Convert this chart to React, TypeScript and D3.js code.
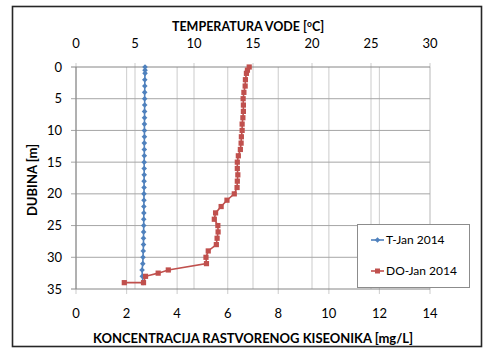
import React from "react";
import { scaleLinear, line } from "d3";

// dubina [m]
const depthT = [0, 0.5, 1, 2, 3, 4, 5, 6, 7, 8, 9, 10, 11, 12, 13, 14, 15, 16, 17, 18, 19, 20, 21, 22, 23, 24, 25, 26, 27, 28, 29, 30, 31, 32, 33, 34];
const tempT = [5.85, 5.85, 5.85, 5.83, 5.83, 5.82, 5.82, 5.82, 5.81, 5.81, 5.8, 5.8, 5.8, 5.79, 5.79, 5.79, 5.78, 5.78, 5.78, 5.77, 5.77, 5.76, 5.76, 5.75, 5.75, 5.74, 5.74, 5.73, 5.72, 5.72, 5.7, 5.68, 5.66, 5.6, 5.62, 5.68];

const depthDO = [0, 0.5, 1, 2, 3, 4, 5, 6, 7, 8, 9, 10, 11, 12, 13, 14, 15, 16, 17, 18, 19, 20, 21, 22, 23, 24, 25, 26, 27, 28, 29, 30, 31, 32, 32.5, 33, 34, 34];
const valDO = [6.85, 6.78, 6.74, 6.7, 6.69, 6.64, 6.61, 6.62, 6.62, 6.6, 6.57, 6.57, 6.54, 6.53, 6.5, 6.42, 6.38, 6.38, 6.4, 6.38, 6.37, 6.26, 5.97, 5.74, 5.52, 5.47, 5.61, 5.62, 5.58, 5.55, 5.23, 5.14, 5.16, 3.65, 3.25, 2.75, 2.67, 1.91];

const ticksT = [0, 5, 10, 15, 20, 25, 30];
const ticksDO = [0, 2, 4, 6, 8, 10, 12, 14];
const ticksDepth = [0, 5, 10, 15, 20, 25, 30, 35];

const seriesNames = ["T-Jan 2014", "DO-Jan 2014"];

const BLUE = "#4f81bd";
const RED = "#c0504d";
const FONT = "Lato, 'Open Sans', sans-serif";

export default function App() {
  const left = 76, right = 430, top = 67, bottom = 289;
  const xT = scaleLinear().domain([0, 30]).range([left, right]);
  const xDO = scaleLinear().domain([0, 14]).range([left, right]);
  const y = scaleLinear().domain([0, 35]).range([top, bottom]);

  const tPts = depthT.map((d, i) => [xT(tempT[i]), y(d)] as [number, number]);
  const doPts = depthDO.map((d, i) => [xDO(valDO[i]), y(d)] as [number, number]);
  const path = line();

  const diamond = (cx: number, cy: number, r = 2.8) =>
    `M${cx},${cy - r}L${cx + r},${cy}L${cx},${cy + r}L${cx - r},${cy}Z`;

  return (
    <svg width={484} height={348} style={{ position: "absolute", left: 0, top: 0 }} fontFamily={FONT}>
      <rect x={0} y={0} width={484} height={348} fill="#fff" />
      <rect x={12.5} y={6.5} width={469} height={340} fill="#fff" stroke="#262626" strokeWidth={1.6} />

      {/* vertical grid, both axes */}
      {ticksDO.map((t) => (
        <line key={"gd" + t} x1={xDO(t)} x2={xDO(t)} y1={top} y2={bottom + 5} stroke="#d4d4d4" strokeWidth={1.2} />
      ))}
      {ticksT.map((t) => (
        <line key={"gt" + t} x1={xT(t)} x2={xT(t)} y1={top - 4} y2={bottom} stroke="#d4d4d4" strokeWidth={1.2} />
      ))}
      {/* horizontal grid */}
      {ticksDepth.map((t) => (
        <line key={"gy" + t} x1={left - 5} x2={right} y1={y(t)} y2={y(t)} stroke={t === 0 || t === 35 ? "#868686" : "#a6a6a6"} strokeWidth={1} />
      ))}
      <line x1={left} x2={left} y1={top} y2={bottom} stroke="#868686" />

      {/* axis labels */}
      {ticksT.map((t) => (
        <text key={"lt" + t} x={xT(t)} y={48} textAnchor="middle" fontSize={13} fill="#000">{t}</text>
      ))}
      {ticksDO.map((t) => (
        <text key={"ld" + t} x={xDO(t)} y={318} textAnchor="middle" fontSize={13} fill="#000">{t}</text>
      ))}
      {ticksDepth.map((t) => (
        <text key={"ly" + t} x={62} y={y(t) + 4.5} textAnchor="end" fontSize={13} fill="#000">{t}</text>
      ))}

      <text x={248} y={30.5} textAnchor="middle" fontSize={12.5} fontWeight="bold" fill="#000">
        TEMPERATURA VODE [<tspan fontSize={8.5} dy={-4}>o</tspan><tspan dy={4}>C]</tspan>
      </text>
      <text x={253} y={342.5} textAnchor="middle" fontSize={13} fontWeight="bold" fill="#000" textLength={320} lengthAdjust="spacing">
        KONCENTRACIJA RASTVORENOG KISEONIKA [mg/L]
      </text>
      <text transform="translate(36.5,180) rotate(-90)" textAnchor="middle" fontSize={13} fontWeight="bold" fill="#000">
        DUBINA [m]
      </text>

      {/* series */}
      <path d={path(tPts) ?? ""} fill="none" stroke={BLUE} strokeWidth={1.6} />
      {tPts.map(([cx, cy], i) => (
        <path key={"mt" + i} d={diamond(cx, cy)} fill={BLUE} />
      ))}
      <path d={path(doPts) ?? ""} fill="none" stroke={RED} strokeWidth={1.6} />
      {doPts.map(([cx, cy], i) => (
        <rect key={"md" + i} x={cx - 2.6} y={cy - 2.6} width={5.2} height={5.2} fill={RED} />
      ))}

      {/* legend */}
      <rect x={357.5} y={224.5} width={112} height={63} fill="#fff" stroke="#8c8c8c" />
      <line x1={371} x2={384} y1={240} y2={240} stroke={BLUE} strokeWidth={1.6} />
      <path d={diamond(377.5, 240)} fill={BLUE} />
      <text x={386} y={244} fontSize={12} fill="#000">{seriesNames[0]}</text>
      <line x1={371} x2={384} y1={271} y2={271} stroke={RED} strokeWidth={1.6} />
      <rect x={375} y={268.5} width={5} height={5} fill={RED} />
      <text x={386} y={275} fontSize={12} fill="#000">{seriesNames[1]}</text>
    </svg>
  );
}
